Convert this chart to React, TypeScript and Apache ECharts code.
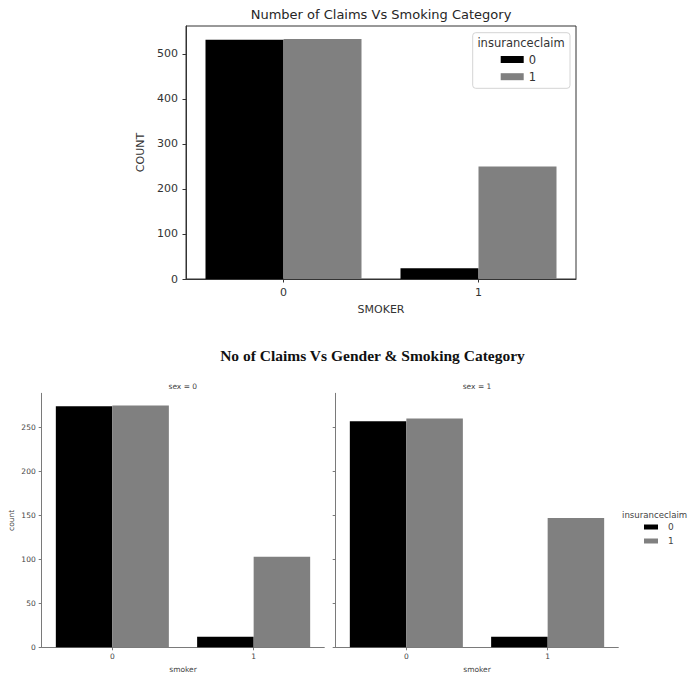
import React, { useEffect, useRef } from "react";
import * as echarts from "echarts";

const smokerCategories = ["0", "1"];
const claimNames = ["0", "1"];
// top chart: counts by smoker, split by insuranceclaim
const topClaim0 = [531, 24];
const topClaim1 = [533, 250];
// facets by sex
const sex0Claim0 = [274, 12];
const sex0Claim1 = [275, 103];
const sex1Claim0 = [257, 12];
const sex1Claim1 = [260, 147];
const topYTicks = [0, 100, 200, 300, 400, 500];
const facetYTicks = [0, 50, 100, 150, 200, 250];
const topYMax = 561.75;
const facetYMax = 288.75;

const SANS = "DejaVu Sans";
const BLACK = "#000000";
const GRAY = "#808080";

export default function App() {
  const ref = useRef<HTMLDivElement>(null);
  useEffect(() => {
    document.body.style.margin = "0";
    if (!ref.current) return;
    const chart = echarts.init(ref.current, undefined, { renderer: "svg" });

    const topAxisColor = "#333333";
    const facetAxisColor = "#7a7a7a";
    const facetText = "#444444";

    const facetX = (gridIndex: number) => ({
      type: "category",
      gridIndex,
      data: smokerCategories,
      axisLine: { show: true, lineStyle: { color: facetAxisColor, width: 1 } },
      axisTick: { show: true, alignWithLabel: true, length: 3, lineStyle: { color: facetAxisColor } },
      axisLabel: { fontSize: 7.5, color: facetText, fontFamily: SANS, margin: 5 },
      name: "smoker",
      nameLocation: "middle",
      nameGap: 18,
      nameTextStyle: { fontSize: 7.5, color: facetText, fontFamily: SANS },
      splitLine: { show: false },
    });
    const facetY = (gridIndex: number, showLabels: boolean) => ({
      type: "value",
      gridIndex,
      min: 0,
      max: facetYMax,
      axisLine: { show: true, lineStyle: { color: facetAxisColor, width: 1 } },
      axisTick: { show: true, length: 3, lineStyle: { color: facetAxisColor }, customValues: facetYTicks },
      axisLabel: {
        show: showLabels,
        fontSize: 7.5,
        color: facetText,
        fontFamily: SANS,
        margin: 6,
        customValues: facetYTicks,
      },
      splitLine: { show: false },
      name: showLabels ? "count" : "",
      nameLocation: "middle",
      nameGap: 26,
      nameTextStyle: { fontSize: 7.5, color: facetText, fontFamily: SANS },
    });

    const barBase = { type: "bar", barGap: "0%", barCategoryGap: "20%" };

    const option: any = {
      animation: false,
      backgroundColor: "#ffffff",
      grid: [
        { left: 186, top: 26, width: 390, height: 253, show: true, borderColor: topAxisColor, borderWidth: 1, containLabel: false },
        { left: 41.7, top: 393.3, width: 282.6, height: 254, containLabel: false },
        { left: 335.7, top: 393.3, width: 282.6, height: 254, containLabel: false },
      ],
      xAxis: [
        {
          type: "category",
          gridIndex: 0,
          data: smokerCategories,
          axisLine: { show: true, lineStyle: { color: topAxisColor } },
          axisTick: { show: true, alignWithLabel: true, length: 3.5, lineStyle: { color: topAxisColor } },
          axisLabel: { fontSize: 11, color: "#333", fontFamily: SANS, margin: 8 },
          name: "SMOKER",
          nameLocation: "middle",
          nameGap: 25,
          nameTextStyle: { fontSize: 11, color: "#333", fontFamily: SANS },
          splitLine: { show: false },
        },
        facetX(1),
        facetX(2),
      ],
      yAxis: [
        {
          type: "value",
          gridIndex: 0,
          min: 0,
          max: topYMax,
          axisLine: { show: true, lineStyle: { color: topAxisColor } },
          axisTick: { show: true, length: 3.5, lineStyle: { color: topAxisColor }, customValues: topYTicks },
          axisLabel: { fontSize: 11, color: "#333", fontFamily: SANS, margin: 8, customValues: topYTicks },
          splitLine: { show: false },
          name: "COUNT",
          nameLocation: "middle",
          nameGap: 31,
          nameTextStyle: { fontSize: 11, color: "#333", fontFamily: SANS },
        },
        facetY(1, true),
        facetY(2, false),
      ],
      legend: [
        {
          data: claimNames,
          orient: "vertical",
          left: 500.7,
          top: 53.5,
          padding: 0,
          itemWidth: 23,
          itemHeight: 7,
          itemGap: 5.2,
          icon: "rect",
          selectedMode: false,
          textStyle: { fontSize: 11.5, color: "#333", fontFamily: SANS },
        },
        {
          data: claimNames,
          orient: "vertical",
          left: 644,
          top: 522.5,
          padding: 0,
          itemWidth: 14,
          itemHeight: 5,
          itemGap: 5,
          icon: "rect",
          selectedMode: false,
          textStyle: { fontSize: 9, color: facetText, fontFamily: SANS, padding: [0, 0, 0, 5] },
        },
      ],
      graphic: [
        {
          type: "rect",
          z: 1,
          shape: { x: 472.7, y: 32.7, width: 97.3, height: 55.6, r: 3 },
          style: { fill: "rgba(255,255,255,0.8)", stroke: "#d4d4d4", lineWidth: 1 },
        },
        {
          type: "text",
          z: 5,
          x: 521,
          y: 43,
          style: { text: "insuranceclaim", font: `11.5px '${SANS}'`, fill: "#333", align: "center", verticalAlign: "middle" },
        },
        {
          type: "text",
          x: 381,
          y: 14.5,
          style: { text: "Number of Claims Vs Smoking Category", font: `13px '${SANS}'`, fill: "#262626", align: "center", verticalAlign: "middle" },
        },
        {
          type: "text",
          x: 372.5,
          y: 355,
          style: {
            text: "No of Claims Vs Gender & Smoking Category",
            font: `bold 15.5px 'Liberation Serif'`,
            fill: "#111",
            align: "center",
            verticalAlign: "middle",
          },
        },
        {
          type: "text",
          x: 182.8,
          y: 386.7,
          style: { text: "sex = 0", font: `7.5px '${SANS}'`, fill: facetText, align: "center", verticalAlign: "middle" },
        },
        {
          type: "text",
          x: 477,
          y: 386.7,
          style: { text: "sex = 1", font: `7.5px '${SANS}'`, fill: facetText, align: "center", verticalAlign: "middle" },
        },
        {
          type: "text",
          x: 622,
          y: 515,
          style: { text: "insuranceclaim", font: `8.6px '${SANS}'`, fill: facetText, align: "left", verticalAlign: "middle" },
        },
      ],
      series: [
        { ...barBase, name: claimNames[0], xAxisIndex: 0, yAxisIndex: 0, data: topClaim0, itemStyle: { color: BLACK } },
        { ...barBase, name: claimNames[1], xAxisIndex: 0, yAxisIndex: 0, data: topClaim1, itemStyle: { color: GRAY } },
        { ...barBase, name: claimNames[0], xAxisIndex: 1, yAxisIndex: 1, data: sex0Claim0, itemStyle: { color: BLACK } },
        { ...barBase, name: claimNames[1], xAxisIndex: 1, yAxisIndex: 1, data: sex0Claim1, itemStyle: { color: GRAY } },
        { ...barBase, name: claimNames[0], xAxisIndex: 2, yAxisIndex: 2, data: sex1Claim0, itemStyle: { color: BLACK } },
        { ...barBase, name: claimNames[1], xAxisIndex: 2, yAxisIndex: 2, data: sex1Claim1, itemStyle: { color: GRAY } },
      ],
    };

    chart.setOption(option);
    return () => {
      chart.dispose();
    };
  }, []);

  return <div ref={ref} style={{ width: 689, height: 677, overflow: "hidden" }} />;
}
